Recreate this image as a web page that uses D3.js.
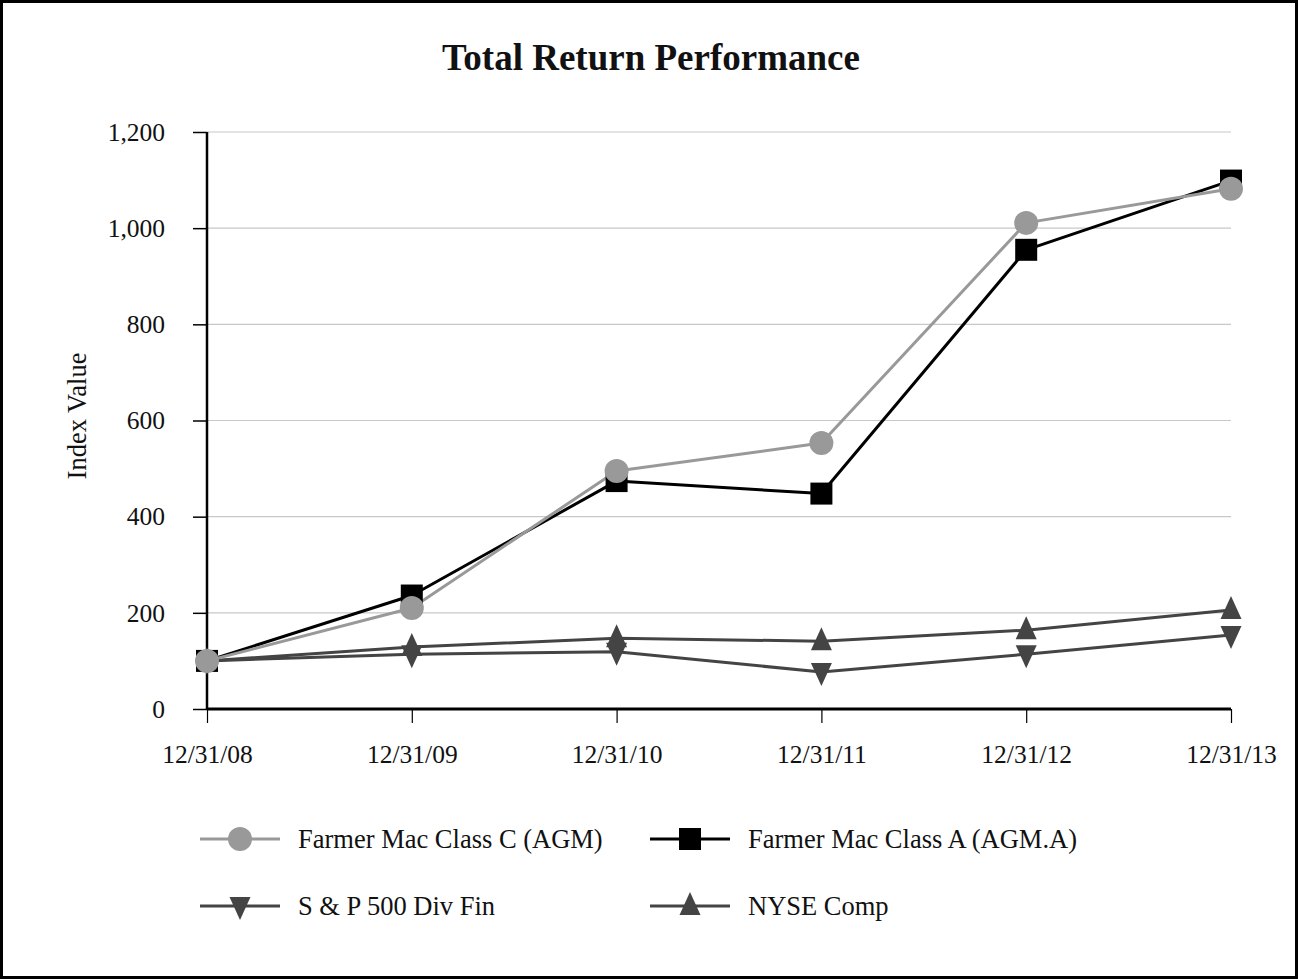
<!DOCTYPE html>
<html><head><meta charset="utf-8">
<script src="https://cdn.jsdelivr.net/npm/d3@7"></script>
<style>body{margin:0;background:#fff}svg{display:block}text{font-family:"Liberation Serif","Times New Roman",serif;fill:#111}</style>
</head><body>
<svg id="c" width="1299" height="980"></svg>
<script>
const categories = ["12/31/08","12/31/09","12/31/10","12/31/11","12/31/12","12/31/13"];
const classC = [100, 210, 495, 553, 1011, 1082];
const classA = [100, 236, 474, 448, 955, 1099];
const spDivFin = [100, 114, 119, 77, 114, 154];
const nyseComp = [100, 129, 147, 141, 164, 206];
const yTicks = [0, 200, 400, 600, 800, 1000, 1200];
const seriesNames = ["Farmer Mac Class C (AGM)", "Farmer Mac Class A (AGM.A)", "S & P 500 Div Fin", "NYSE Comp"];

const series = [
  {name: seriesNames[0], values: classC, color: "#999999", mcolor: "#999999", marker: "circle"},
  {name: seriesNames[1], values: classA, color: "#000000", mcolor: "#000000", marker: "square"},
  {name: seriesNames[2], values: spDivFin, color: "#444444", mcolor: "#444444", marker: "down"},
  {name: seriesNames[3], values: nyseComp, color: "#444444", mcolor: "#444444", marker: "up"}
];

const svg = d3.select("#c");
const W = 1299, H = 980;
svg.append("rect").attr("x",1.5).attr("y",1.5).attr("width",W-4).attr("height",H-4)
  .attr("fill","#fff").attr("stroke","#000").attr("stroke-width",3);

const x = d3.scalePoint().domain(categories).range([207, 1231]);
const y = d3.scaleLinear().domain([0, 1200]).range([709, 132]);

svg.append("text").attr("x", 651).attr("y", 70).attr("text-anchor","middle")
  .style("font-size","37px").style("font-weight","bold").text("Total Return Performance");

// gridlines
svg.append("g").selectAll("line").data(yTicks.filter(d=>d>0)).join("line")
  .attr("x1",207).attr("x2",1231).attr("y1",d=>y(d)).attr("y2",d=>y(d))
  .attr("stroke","#c8c8c8").attr("stroke-width",1.2);

// y axis
const ya = svg.append("g").attr("transform","translate(207,0)")
  .call(d3.axisLeft(y).tickValues(yTicks).tickSize(14).tickPadding(28).tickFormat(d3.format(",")));
ya.select(".domain").attr("stroke","#000").attr("stroke-width",2.5).attr("d","M0,132V709");
ya.selectAll(".tick line").attr("stroke","#000").attr("stroke-width",1.5);
ya.selectAll(".tick text").style("font-size","25.5px").attr("fill","#111");

// x axis
const xa = svg.append("g").attr("transform","translate(0,709)")
  .call(d3.axisBottom(x).tickSize(14).tickPadding(22));
xa.select(".domain").attr("stroke","#000").attr("stroke-width",3).attr("d","M207,0H1231");
xa.selectAll(".tick line").attr("stroke","#000").attr("stroke-width",1.2);
xa.selectAll(".tick text").style("font-size","25.5px").attr("fill","#111");

svg.append("text").attr("transform","translate(86,416) rotate(-90)").attr("text-anchor","middle")
  .style("font-size","26.5px").text("Index Value");

function markerPath(type){
  if(type==="circle") return d3.symbol(d3.symbolCircle, Math.PI*12*12)();
  if(type==="square") return "M-11,-11H11V11H-11Z";
  if(type==="up") return "M0,-14L10.5,9L-10.5,9Z";
  if(type==="down") return "M0,14L10.5,-9L-10.5,-9Z";
}

const line = d3.line().x((d,i)=>x(categories[i])).y(d=>y(d));
const drawOrder = [series[3], series[2], series[1], series[0]];
drawOrder.forEach(s=>{
  svg.append("path").datum(s.values).attr("d", line).attr("fill","none")
    .attr("stroke", s.color).attr("stroke-width", 3).attr("stroke-linejoin","round");
});
drawOrder.forEach(s=>{
  svg.append("g").selectAll("path").data(s.values).join("path")
    .attr("transform",(d,i)=>`translate(${x(categories[i])},${y(d)})`)
    .attr("d", markerPath(s.marker)).attr("fill", s.mcolor);
});

// legend
const legPos = [[200,839],[650,839],[200,906],[650,906]];
series.forEach((s,i)=>{
  const [lx, ly] = legPos[i];
  const g = svg.append("g").attr("transform",`translate(${lx},${ly})`);
  g.append("line").attr("x1",0).attr("x2",80).attr("y1",0).attr("y2",0)
    .attr("stroke", s.color).attr("stroke-width",3);
  g.append("path").attr("transform","translate(40,0)").attr("d", markerPath(s.marker)).attr("fill", s.mcolor);
  g.append("text").attr("x",98).attr("y",9).style("font-size","26.5px").text(s.name);
});
</script>
</body></html>
